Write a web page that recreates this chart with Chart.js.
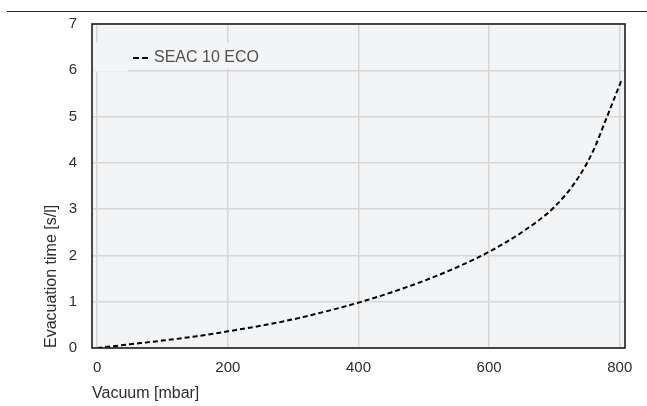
<!DOCTYPE html>
<html>
<head>
<meta charset="utf-8">
<script src="https://cdn.jsdelivr.net/npm/chart.js@4.4.0/dist/chart.umd.min.js"></script>
<style>
html,body{margin:0;padding:0;background:#ffffff;}
#wrap{width:647px;height:406px;}
</style>
</head>
<body>
<div id="wrap"><canvas id="c" width="647" height="406"></canvas></div>
<script>
// ---- data ----
const vacuum   = [0, 50, 100, 150, 200, 250, 300, 350, 400, 450, 500, 550, 600, 650, 700, 735, 760, 780, 803];
const evacTime = [0, 0.08, 0.16, 0.25, 0.36, 0.48, 0.62, 0.79, 0.98, 1.2, 1.45, 1.74, 2.08, 2.5, 3.05, 3.65, 4.28, 4.98, 5.8];
const seriesLabel = 'SEAC 10 ECO';
const xTicks = [0, 200, 400, 600, 800];
const yTicks = [0, 1, 2, 3, 4, 5, 6, 7];
const xTitle = 'Vacuum [mbar]';
const yTitle = 'Evacuation time [s/l]';

const FONT = '"Liberation Sans", Arial, Helvetica, sans-serif';
const PLOT_BG = '#f3f4f6';
const GRID = '#d6d6d6';

const framePlugin = {
  id: 'frame',
  beforeDraw(chart) {
    const {ctx, chartArea: a} = chart;
    ctx.save();
    ctx.fillStyle = '#ffffff';
    ctx.fillRect(0, 0, chart.width, chart.height);
    ctx.fillStyle = PLOT_BG;
    ctx.fillRect(a.left, a.top, a.right - a.left, a.bottom - a.top);
    // thin rule across the top of the figure
    ctx.strokeStyle = '#2a2a2a';
    ctx.lineWidth = 1.2;
    ctx.beginPath();
    ctx.moveTo(7, 11.5);
    ctx.lineTo(chart.width, 11.5);
    ctx.stroke();
    ctx.restore();
  },
  beforeDatasetsDraw(chart) {
    // legend inside the plot area
    const {ctx, chartArea: a} = chart;
    const ds = chart.data.datasets[0];
    ctx.save();
    ctx.fillStyle = PLOT_BG;
    ctx.fillRect(a.left + 1, 43, 208, 25.5);
    ctx.fillRect(a.left + 1, 43, 35, 28.5);
    ctx.strokeStyle = ds.borderColor;
    ctx.lineWidth = 2;
    ctx.setLineDash([6, 3]);
    ctx.beginPath();
    ctx.moveTo(133, 58);
    ctx.lineTo(148, 58);
    ctx.stroke();
    ctx.setLineDash([]);
    ctx.fillStyle = '#505050';
    ctx.font = '16px ' + FONT;
    ctx.textBaseline = 'middle';
    ctx.textAlign = 'left';
    ctx.fillText(ds.label, 154, 57.5);
    ctx.restore();
  },
  afterDatasetsDraw(chart) {
    const {ctx, chartArea: a} = chart;
    ctx.save();
    ctx.strokeStyle = '#1e1e1e';
    ctx.lineWidth = 1.6;
    ctx.strokeRect(a.left, a.top, a.right - a.left, a.bottom - a.top);
    ctx.restore();
  }
};

new Chart(document.getElementById('c'), {
  type: 'line',
  data: {
    datasets: [{
      label: seriesLabel,
      data: vacuum.map((v, i) => ({x: v, y: evacTime[i]})),
      borderColor: '#000000',
      borderWidth: 2,
      borderDash: [5, 3],
      pointRadius: 0,
      fill: false,
      cubicInterpolationMode: 'monotone'
    }]
  },
  options: {
    responsive: false,
    animation: false,
    layout: {padding: {left: 0, top: 23, right: 22, bottom: 0}},
    plugins: {legend: {display: false}, tooltip: {enabled: false}},
    scales: {
      x: {
        type: 'linear',
        min: -8,
        max: 808,
        afterBuildTicks: s => { s.ticks = xTicks.map(v => ({value: v})); },
        afterFit: s => { s.height = 58; },
        ticks: {font: {family: FONT, size: 15}, color: '#2e2e2e', padding: 11, maxRotation: 0},
        grid: {color: GRID, lineWidth: 1.5, drawTicks: false},
        border: {display: false},
        title: {display: true, text: xTitle, align: 'start', color: '#2e2e2e',
                font: {family: FONT, size: 16}, padding: {top: 0, bottom: 3}}
      },
      y: {
        type: 'linear',
        min: 0,
        max: 7,
        afterBuildTicks: s => { s.ticks = yTicks.map(v => ({value: v})); },
        afterFit: s => { s.width = 92; },
        ticks: {font: {family: FONT, size: 15}, color: '#2e2e2e', padding: 15},
        grid: {color: GRID, lineWidth: 1.5, drawTicks: false},
        border: {display: false},
        title: {display: true, text: yTitle, align: 'start', color: '#2e2e2e',
                font: {family: FONT, size: 16}, padding: {top: 42, bottom: 0}}
      }
    }
  },
  plugins: [framePlugin]
});
</script>
</body>
</html>
